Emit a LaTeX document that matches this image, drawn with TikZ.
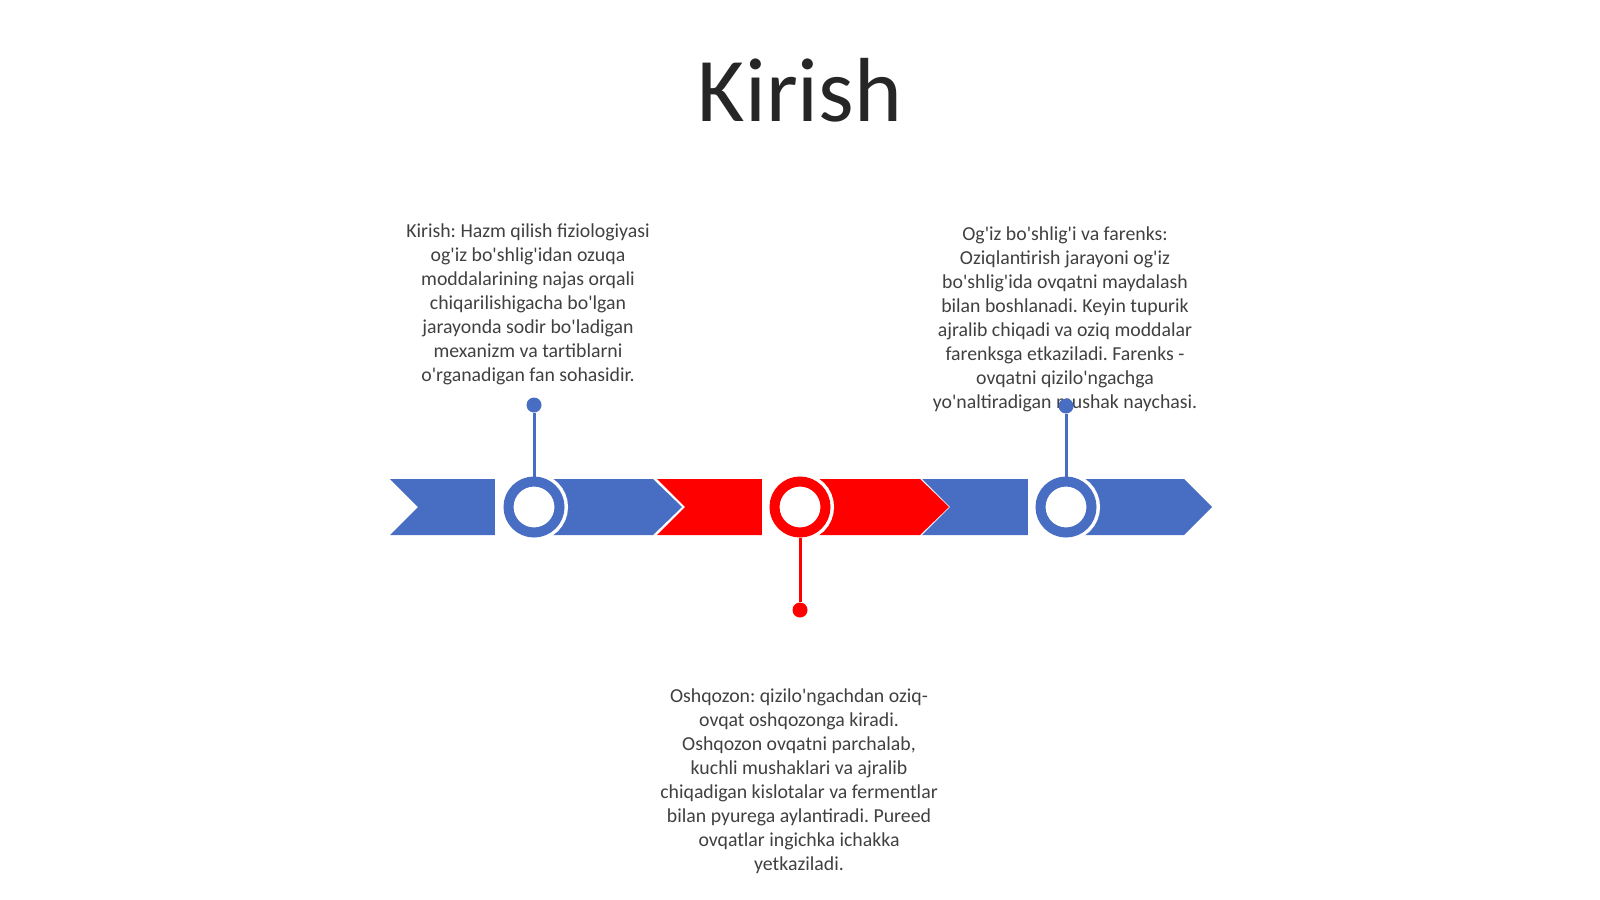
\documentclass[tikz,border=0pt]{standalone}
\usepackage{fontspec}
\setmainfont{Carlito}
\usetikzlibrary{positioning}

\definecolor{bandblue}{RGB}{72,110,196}
\definecolor{bandred}{RGB}{255,0,0}
\definecolor{textgray}{RGB}{64,64,64}
\definecolor{titlegray}{RGB}{38,38,38}
\newcommand{\tq}{\textquotesingle}

\begin{document}
\frenchspacing
\begin{tikzpicture} [x=1pt, y=-1pt,
		% define styles
		titlestyle/.style={
			% Font
			font=\fontsize{91}{100}\selectfont,
			text=titlegray,
			inner sep=0pt
		},
		notestyle/.style={
			% Font
			font=\fontsize{19.8}{24}\selectfont,
			text=textgray,
			align=center,
			inner sep=0pt
		},
		ringblue/.style={
			% The shape:
			circle,
			minimum size=51pt,
			inner sep=0pt,
			% The border:
			line width=10pt,
			draw=bandblue,
			fill=white,
			% white outline round the ring
			preaction={draw=white, line width=17pt}
		},
		ringred/.style={
			ringblue,
			draw=bandred
		},
		dotblue/.style={
			circle,
			minimum size=15pt,
			inner sep=0pt,
			fill=bandblue
		},
		dotred/.style={
			dotblue,
			fill=bandred
		},
		pinblue/.style={
			-,
			% Thickness
			line width=3pt,
			% Color
			bandblue
		},
		pinred/.style={
			pinblue,
			bandred
		}]
		% end of style definition

		\useasboundingbox (0,0) rectangle (1600,899);

		% title
		\node (iTitle) [titlestyle, anchor=base] at (800,121) {Kirish};

		% draw the band
		\fill [bandblue] (390,479) -- ++(263,0) -- ++(29,28) -- ++(-29,28) -- ++(-263,0) -- ++(28,-28) -- cycle;
		\fill [bandred] (657,479) -- ++(263,0) -- ++(29,28) -- ++(-29,28) -- ++(-263,0) -- ++(28,-28) -- cycle;
		\fill [bandblue] (922,479) -- ++(262,0) -- ++(28,28) -- ++(-28,28) -- ++(-262,0) -- ++(28,-28) -- cycle;

		% gaps before the rings
		\fill [white] (495,478) rectangle (533,536);
		\fill [white] (762,478) rectangle (799,536);
		\fill [white] (1028,478) rectangle (1065,536);

		% draw rings
		\node (iRingA) [ringblue] at (534,507) {};
		\node (iRingB) [ringred] at (800,507) {};
		\node (iRingC) [ringblue] at (1066,507) {};

		% draw notes (anchored at the last line)
		\node (iNoteA) [notestyle, anchor=base] at (528,381) {Kirish: Hazm qilish fiziologiyasi\\og\tq iz bo\tq shlig\tq idan ozuqa\\moddalarining najas orqali\\chiqarilishigacha bo\tq lgan\\jarayonda sodir bo\tq ladigan\\mexanizm va tartiblarni\\o\tq rganadigan fan sohasidir.};
		\node (iNoteC) [notestyle, anchor=base] at (1065,408) {Og\tq iz bo\tq shlig\tq i va farenks:\\Oziqlantirish jarayoni og\tq iz\\bo\tq shlig\tq ida ovqatni maydalash\\bilan boshlanadi. Keyin tupurik\\ajralib chiqadi va oziq moddalar\\farenksga etkaziladi. Farenks -\\ovqatni qizilo\tq ngachga\\yo\tq naltiradigan mushak naychasi.};
		\node (iNoteB) [notestyle, anchor=base] at (799,870) {Oshqozon: qizilo\tq ngachdan oziq-\\ovqat oshqozonga kiradi.\\Oshqozon ovqatni parchalab,\\kuchli mushaklari va ajralib\\chiqadigan kislotalar va fermentlar\\bilan pyurega aylantiradi. Pureed\\ovqatlar ingichka ichakka\\yetkaziladi.};

		% draw pins
		\node (iDotA) [dotblue] at (534,405) {};
		\node (iDotB) [dotred] at (800,610) {};
		\node (iDotC) [dotblue] at (1066,406) {};

		% connect nodes
		\draw [pinblue] (iRingA) -- (iDotA);
		\draw [pinred] (iRingB) -- (iDotB);
		\draw [pinblue] (iRingC) -- (iDotC);
	\end{tikzpicture}
\end{document}
